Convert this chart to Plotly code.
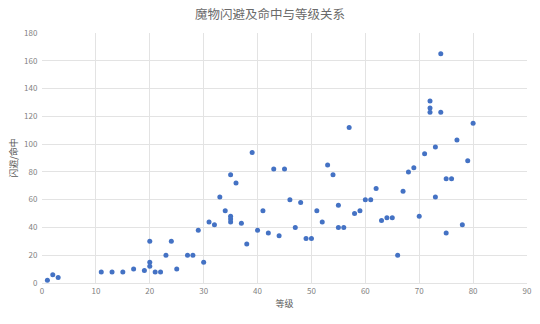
import plotly.graph_objects as go

level = [1, 2, 3, 11, 13, 15, 17, 19, 20, 20, 20, 21, 22, 23, 24, 25, 27, 28, 29, 30,
         31, 32, 33, 34, 35, 35, 35, 35, 36, 37, 38, 39, 40, 41, 42, 43, 44, 45, 46, 47,
         48, 49, 50, 51, 52, 53, 54, 55, 55, 56, 57, 58, 59, 60, 61, 62, 63, 64, 65, 66,
         67, 68, 69, 70, 71, 72, 72, 72, 73, 73, 74, 74, 75, 75, 76, 77, 78, 79, 80]
value = [2, 6, 4, 8, 8, 8, 10, 9, 30, 15, 12, 8, 8, 20, 30, 10, 20, 20, 38, 15,
         44, 42, 62, 52, 78, 48, 46, 44, 72, 43, 28, 94, 38, 52, 36, 82, 34, 82, 60, 40,
         58, 32, 32, 52, 44, 85, 78, 56, 40, 40, 112, 50, 52, 60, 60, 68, 45, 47, 47, 20,
         66, 80, 83, 48, 93, 131, 126, 123, 98, 62, 165, 123, 36, 75, 75, 103, 42, 88, 115]

title = "魔物闪避及命中与等级关系"
x_title = "等级"
y_title = "闪避/命中"

font = "Noto Sans CJK SC"
grid = "#e3e3e3"
tick_color = "#7f7f7f"

fig = go.Figure(go.Scatter(
    x=level, y=value, mode="markers",
    marker=dict(color="#4472C4", size=5, line=dict(width=0)),
))

fig.update_layout(
    width=540, height=324,
    margin=dict(l=42, r=13, t=33, b=41),
    paper_bgcolor="white", plot_bgcolor="white",
    showlegend=False,
    font=dict(family=font, color=tick_color, size=8),
    title=dict(text=title, x=0.5, xanchor="center", y=0.955, yanchor="middle",
               font=dict(family=font, size=12.5, color="#6a6a6a")),
)
fig.update_xaxes(
    range=[0, 90], dtick=10, tick0=0, showgrid=True, gridcolor=grid, gridwidth=1,
    zeroline=False, showline=True, linecolor=grid, ticks="", automargin=False,
    tickfont=dict(size=8, color=tick_color),
    title=dict(text=x_title, font=dict(size=9, color="#595959"), standoff=6),
)
fig.update_yaxes(
    range=[0, 180], dtick=20, tick0=0, showgrid=True, gridcolor=grid, gridwidth=1,
    zeroline=False, showline=False, ticks="", automargin=False,
    tickfont=dict(size=8, color=tick_color), ticksuffix="  ",
    title=dict(text=y_title, font=dict(size=9, color="#595959"), standoff=4),
)

fig.write_html("out.html")
